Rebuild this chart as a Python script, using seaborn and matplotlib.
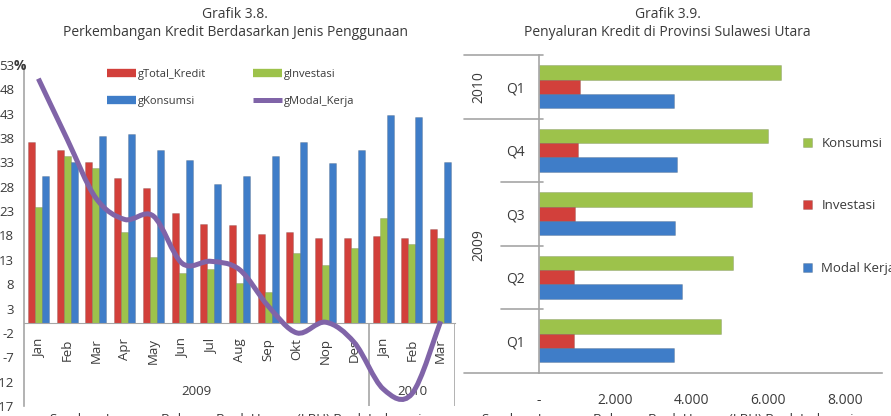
import numpy as np
import pandas as pd
import seaborn as sns
import matplotlib.pyplot as plt
import matplotlib.transforms as mtransforms
from matplotlib.lines import Line2D
from matplotlib.path import Path
from matplotlib.patches import PathPatch
from matplotlib.ticker import FuncFormatter

# === Data: Grafik 3.8 (pertumbuhan kredit, %) ===
periods = ["Jan09", "Feb09", "Mar09", "Apr09", "May09", "Jun09", "Jul09", "Aug09",
           "Sep09", "Okt09", "Nop09", "Des09", "Jan10", "Feb10", "Mar10"]
month_labels = ["Jan", "Feb", "Mar", "Apr", "May", "Jun", "Jul", "Aug",
                "Sep", "Okt", "Nop", "Des", "Jan", "Feb", "Mar"]
g_total_kredit = [37.2, 35.5, 33.1, 29.8, 27.8, 22.6, 20.3, 20.1, 18.3, 18.7, 17.4, 17.4, 17.9, 17.4, 19.3]
g_investasi = [23.8, 34.4, 31.8, 18.7, 13.6, 10.2, 11.2, 8.3, 6.4, 14.4, 11.9, 15.4, 21.6, 16.2, 17.5]
g_konsumsi = [30.2, 33.0, 38.5, 38.9, 35.6, 33.6, 28.6, 30.3, 34.3, 37.1, 32.9, 35.5, 42.8, 42.4, 33.0]
g_modal_kerja = [50.2, 37.8, 25.7, 21.3, 22.0, 12.3, 12.7, 11.0, 3.5, -2.0, 0.2, -4.0, -13.5, -14.5, 0.4]
left_yticks = [53, 48, 43, 38, 33, 28, 23, 18, 13, 8, 3, -2, -7, -12, -17]

# === Data: Grafik 3.9 (penyaluran kredit, Rp miliar) ===
quarters = ["2010 Q1", "2009 Q4", "2009 Q3", "2009 Q2", "2009 Q1"]
quarter_labels = ["Q1", "Q4", "Q3", "Q2", "Q1"]
konsumsi = [6327, 5978, 5569, 5072, 4758]
investasi = [1072, 1020, 950, 915, 915]
modal_kerja = [3538, 3608, 3556, 3747, 3538]
right_xticks = [0, 2000, 4000, 6000, 8000]

RED = "#D2403B"
GREEN = "#9DC24B"
BLUE = "#3F7DC8"
PURPLE = "#8064A8"
GRID = "#A6A6A6"
TXT = "#3A3A3A"

sns.set_style("white")
plt.rcParams["font.family"] = ["Open Sans", "DejaVu Sans"]
plt.rcParams["text.color"] = TXT
plt.rcParams["xtick.color"] = TXT
plt.rcParams["ytick.color"] = TXT

fig = plt.figure(figsize=(8.91, 4.16), dpi=100)
W, H = 891, 416

# ---------------- Grafik 3.8 ----------------
ax1 = fig.add_axes([24 / W, 1 - 406 / H, (455 - 24) / W, (406 - 65) / H])

df1 = pd.DataFrame({
    "periode": periods * 3,
    "seri": ["gTotal_Kredit"] * 15 + ["gInvestasi"] * 15 + ["gKonsumsi"] * 15,
    "nilai": g_total_kredit + g_investasi + g_konsumsi,
})
sns.barplot(data=df1, x="periode", y="nilai", hue="seri", order=periods,
            hue_order=["gTotal_Kredit", "gInvestasi", "gKonsumsi"],
            palette={"gTotal_Kredit": RED, "gInvestasi": GREEN, "gKonsumsi": BLUE},
            width=0.73, errorbar=None, saturation=1.0, legend=False,
            edgecolor="#00000030", linewidth=0.5, ax=ax1)

ax1.set_xlim(-0.5, 14.5)
ax1.set_ylim(-17, 53)
ax1.set_yticks(left_yticks)
ax1.set_yticklabels([str(v) for v in left_yticks])
ax1.set_xticks(range(len(month_labels)))
ax1.set_xticklabels(month_labels)
ax1.set_xlabel("")
ax1.set_ylabel("")
ax1.tick_params(axis="y", length=0, pad=7, labelsize=9.5)
ax1.tick_params(axis="x", length=0, pad=11, labelsize=9.5, labelrotation=90)
for s in ["top", "right"]:
    ax1.spines[s].set_visible(False)
ax1.spines["bottom"].set_position(("data", 0))
ax1.spines["bottom"].set_color(GRID)
ax1.spines["left"].set_color(GRID)
ax1.spines["left"].set_linewidth(1.2)

# pemisah tahun pada sumbu kategori
ax1.vlines([11.5, 14.5], -17, 0, color=GRID, lw=1.2)
ax1.text(5.5, -14, "2009", ha="center", va="center", fontsize=9.5)
ax1.text(13, -14, "2010", ha="center", va="center", fontsize=9.5)

# garis halus gModal_Kerja (Bezier ala Excel)
xs = np.arange(len(g_modal_kerja), dtype=float)
ys = np.array(g_modal_kerja, dtype=float)
pts = np.column_stack([xs, ys])
ext = np.vstack([pts[0], pts, pts[-1]])
verts = [tuple(pts[0])]
codes = [Path.MOVETO]
for i in range(len(pts) - 1):
    p0, p1, p2, p3 = ext[i], ext[i + 1], ext[i + 2], ext[i + 3]
    c1 = p1 + (p2 - p0) / 6
    c2 = p2 - (p3 - p1) / 6
    verts += [tuple(c1), tuple(c2), tuple(p2)]
    codes += [Path.CURVE4] * 3
ax1.add_patch(PathPatch(Path(verts, codes), fill=False, edgecolor=PURPLE,
                        lw=3.6, zorder=6, capstyle="butt", clip_on=False))

handles1 = [Line2D([], [], color=RED, lw=6, solid_capstyle="butt"),
            Line2D([], [], color=BLUE, lw=6, solid_capstyle="butt"),
            Line2D([], [], color=GREEN, lw=6, solid_capstyle="butt"),
            Line2D([], [], color=PURPLE, lw=3.6, solid_capstyle="butt")]
ax1.legend(handles1, ["gTotal_Kredit", "gKonsumsi", "gInvestasi", "gModal_Kerja"],
           ncol=2, loc="upper left", bbox_to_anchor=(107 / W, 1 - 69 / H),
           bbox_transform=fig.transFigure, frameon=False, fontsize=8,
           handlelength=2.6, handletextpad=0.2, columnspacing=4.2,
           labelspacing=1.43, borderpad=0, borderaxespad=0)

fig.text(20 / W, 1 - 66 / H, "%", fontsize=10, fontweight="bold", ha="center", va="center")
fig.text(235 / W, 1 - 14 / H, "Grafik 3.8.", fontsize=10, ha="center", va="center")
fig.text(235 / W, 1 - 33 / H, "Perkembangan Kredit Berdasarkan Jenis Penggunaan",
         fontsize=10, ha="center", va="center")
fig.text(50 / W, 1 - 413 / H, "Sumber: Laporan Bulanan Bank Umum (LBU) Bank Indonesia",
         fontsize=9.5, ha="left", va="top")

# ---------------- Grafik 3.9 ----------------
ax2 = fig.add_axes([539 / W, 1 - 372.5 / H, (881.7 - 539) / W, (372.5 - 55) / H])

df2 = pd.DataFrame({
    "kuartal": quarters * 3,
    "seri": ["Konsumsi"] * 5 + ["Investasi"] * 5 + ["Modal Kerja"] * 5,
    "nilai": konsumsi + investasi + modal_kerja,
})
sns.barplot(data=df2, x="nilai", y="kuartal", hue="seri", orient="h", order=quarters,
            hue_order=["Konsumsi", "Investasi", "Modal Kerja"],
            palette={"Konsumsi": GREEN, "Investasi": RED, "Modal Kerja": BLUE},
            width=0.68, errorbar=None, saturation=1.0,
            edgecolor="#00000030", linewidth=0.5, ax=ax2)
h2, l2 = ax2.get_legend_handles_labels()
ax2.get_legend().remove()

ax2.set_ylim(4.5, -0.5)
ax2.set_xlim(0, 8960)
ax2.set_xticks(right_xticks)
ax2.xaxis.set_major_formatter(FuncFormatter(lambda v, _: "-" if v == 0 else f"{v:,.0f}".replace(",", ".")))
ax2.set_yticks(range(len(quarter_labels)))
ax2.set_yticklabels(quarter_labels)
ax2.tick_params(axis="x", labelsize=10, length=5, width=1, color=GRID, direction="out", pad=10)
ax2.tick_params(axis="y", length=0, pad=10, labelsize=10)
ax2.set_xlabel("")
ax2.set_ylabel("")
for s in ["top", "right"]:
    ax2.spines[s].set_visible(False)
for s in ["left", "bottom"]:
    ax2.spines[s].set_color(GRID)
    ax2.spines[s].set_linewidth(1.2)

tr = mtransforms.blended_transform_factory(fig.transFigure, ax2.transData)
for yb in [-0.5, 0.5]:
    ax2.plot([464 / W, 543 / W], [yb, yb], color=GRID, lw=1.2, transform=tr, clip_on=False)
for yb in [1.5, 2.5, 3.5]:
    ax2.plot([501 / W, 543 / W], [yb, yb], color=GRID, lw=1.2, transform=tr, clip_on=False)
ax2.plot([464 / W, 539 / W], [4.5, 4.5], color=GRID, lw=1.2, transform=tr, clip_on=False)
ax2.text(479 / W, 0, "2010", rotation=90, ha="center", va="center", fontsize=10, transform=tr)
ax2.text(479 / W, 2.5, "2009", rotation=90, ha="center", va="center", fontsize=10, transform=tr)

fig.legend(h2, l2, loc="upper left", bbox_to_anchor=(803 / W, 1 - 137 / H),
           frameon=False, fontsize=9.5, handlelength=0.7, handleheight=0.7,
           handletextpad=0.7, labelspacing=3.75, borderpad=0, borderaxespad=0)

fig.text(668 / W, 1 - 14 / H, "Grafik 3.9.", fontsize=10, ha="center", va="center")
fig.text(667 / W, 1 - 33 / H, "Penyaluran Kredit di Provinsi Sulawesi Utara",
         fontsize=10, ha="center", va="center")
fig.text(482 / W, 1 - 413 / H, "Sumber: Laporan Bulanan Bank Umum (LBU) Bank Indonesia",
         fontsize=9.5, ha="left", va="top")

fig.savefig("out.png", dpi=100)
